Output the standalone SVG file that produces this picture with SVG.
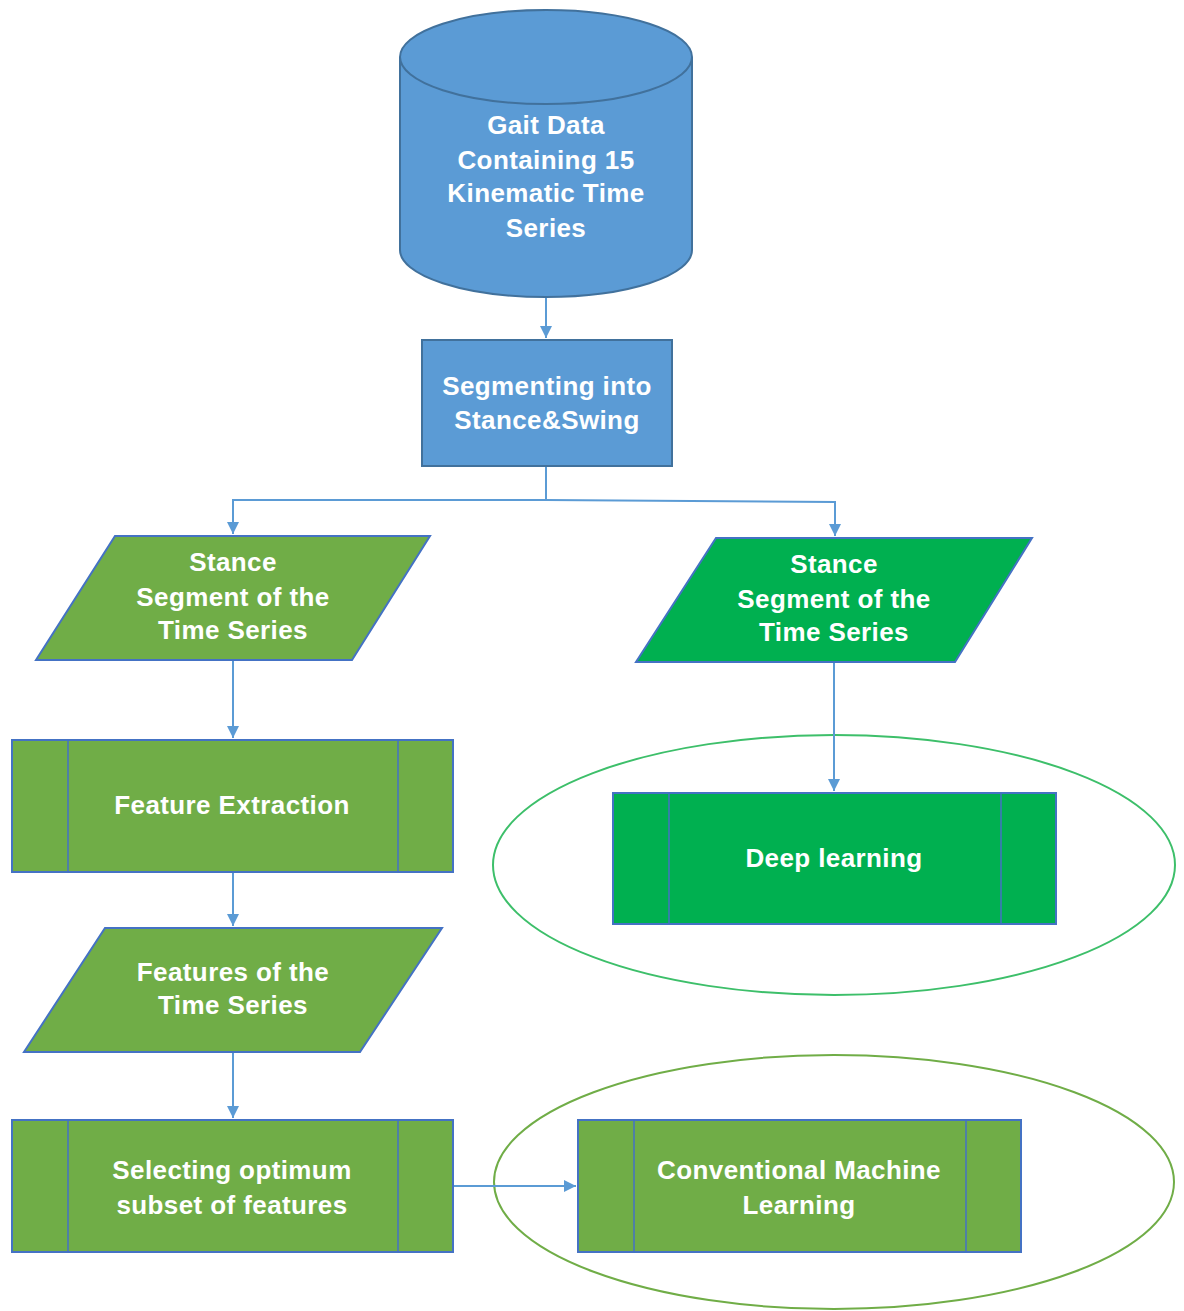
<svg xmlns="http://www.w3.org/2000/svg" width="1184" height="1311" viewBox="0 0 1184 1311">
<defs>
<marker id="arr" viewBox="0 0 10 10" refX="10" refY="5" markerWidth="6" markerHeight="6" markerUnits="strokeWidth" orient="auto">
<path d="M0,0 L10,5 L0,10 z" fill="#5B9BD5"/>
</marker>
<style>
.lbl{font-family:"Liberation Sans",Arial,sans-serif;font-weight:bold;font-size:26px;fill:#ffffff;text-anchor:middle;letter-spacing:0.4px}
.blue{fill:#5B9BD5;stroke:#41719C;stroke-width:2}
.lg{fill:#70AD47;stroke:#4472C4;stroke-width:2}
.dg{fill:#00B050;stroke:#4472C4;stroke-width:2}
.inner{stroke:#4472C4;stroke-width:1.5;fill:none}
.conn{stroke:#5B9BD5;stroke-width:2;fill:none}
</style>
</defs>
<rect width="1184" height="1311" fill="#ffffff"/>

<g id="ellipse-deep">
<ellipse cx="834" cy="865" rx="341" ry="130" fill="none" stroke="#3DBF6A" stroke-width="2"/>
</g>
<g id="ellipse-conv">
<ellipse cx="834" cy="1182" rx="340" ry="127" fill="none" stroke="#70AD47" stroke-width="2"/>
</g>

<g id="connectors">
<path class="conn" d="M546,297 L546,338" marker-end="url(#arr)"/>
<path class="conn" d="M546,466 L546,500 L233,500 L233,534" marker-end="url(#arr)"/>
<path class="conn" d="M546,500 L835,502 L835,536" marker-end="url(#arr)"/>
<path class="conn" d="M233,660 L233,738" marker-end="url(#arr)"/>
<path class="conn" d="M233,872 L233,926" marker-end="url(#arr)"/>
<path class="conn" d="M233,1052 L233,1118" marker-end="url(#arr)"/>
<path class="conn" d="M834,662 L834,791" marker-end="url(#arr)"/>
<path class="conn" d="M453,1186 L576,1186" marker-end="url(#arr)"/>
</g>

<g id="gait-data">
<path class="blue" d="M400,57 L400,250 A146,47 0 0 0 692,250 L692,57"/>
<ellipse class="blue" cx="546" cy="57" rx="146" ry="47"/>
<text class="lbl" x="546" y="134">Gait Data</text>
<text class="lbl" x="546" y="169">Containing 15</text>
<text class="lbl" x="546" y="202">Kinematic Time</text>
<text class="lbl" x="546" y="237">Series</text>
</g>

<g id="segmenting">
<rect class="blue" x="422" y="340" width="250" height="126"/>
<text class="lbl" x="547" y="395">Segmenting into</text>
<text class="lbl" x="547" y="429">Stance&amp;Swing</text>
</g>

<g id="stance-left">
<polygon class="lg" points="115,536 430,536 352,660 36,660"/>
<text class="lbl" x="233" y="571">Stance</text>
<text class="lbl" x="233" y="606">Segment of the</text>
<text class="lbl" x="233" y="639">Time Series</text>
</g>

<g id="stance-right">
<polygon class="dg" points="716,538 1032,538 955,662 636,662"/>
<text class="lbl" x="834" y="573">Stance</text>
<text class="lbl" x="834" y="608">Segment of the</text>
<text class="lbl" x="834" y="641">Time Series</text>
</g>

<g id="feature-extraction">
<rect class="lg" x="12" y="740" width="441" height="132"/>
<line class="inner" x1="68" y1="740" x2="68" y2="872"/>
<line class="inner" x1="398" y1="740" x2="398" y2="872"/>
<text class="lbl" x="232" y="814">Feature Extraction</text>
</g>

<g id="deep-learning">
<rect class="dg" x="613" y="793" width="443" height="131"/>
<line class="inner" x1="669" y1="793" x2="669" y2="924"/>
<line class="inner" x1="1001" y1="793" x2="1001" y2="924"/>
<text class="lbl" x="834" y="867">Deep learning</text>
</g>

<g id="features">
<polygon class="lg" points="105,928 442,928 360,1052 24,1052"/>
<text class="lbl" x="233" y="981">Features of the</text>
<text class="lbl" x="233" y="1014">Time Series</text>
</g>

<g id="selecting">
<rect class="lg" x="12" y="1120" width="441" height="132"/>
<line class="inner" x1="68" y1="1120" x2="68" y2="1252"/>
<line class="inner" x1="398" y1="1120" x2="398" y2="1252"/>
<text class="lbl" x="232" y="1179">Selecting optimum</text>
<text class="lbl" x="232" y="1214">subset of features</text>
</g>

<g id="conventional">
<rect class="lg" x="578" y="1120" width="443" height="132"/>
<line class="inner" x1="634" y1="1120" x2="634" y2="1252"/>
<line class="inner" x1="966" y1="1120" x2="966" y2="1252"/>
<text class="lbl" x="799" y="1179">Conventional Machine</text>
<text class="lbl" x="799" y="1214">Learning</text>
</g>
</svg>
